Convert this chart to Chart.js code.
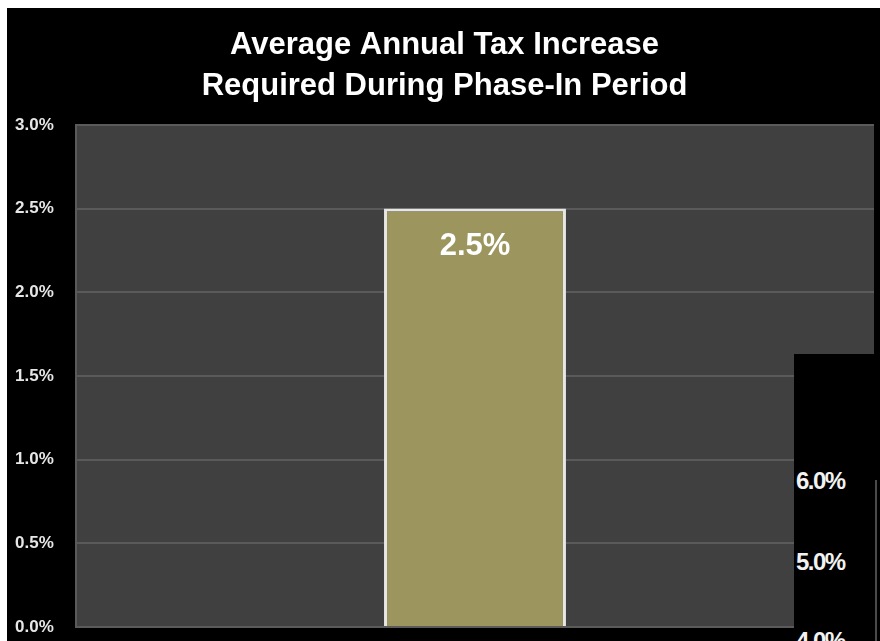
<!DOCTYPE html>
<html>
<head>
<meta charset="utf-8">
<script src="https://cdn.jsdelivr.net/npm/chart.js@4.4.0/dist/chart.umd.min.js"></script>
<style>
    html, body { margin: 0; padding: 0; background: #ffffff; }
    body { width: 880px; height: 641px; position: relative; overflow: hidden; }
    #wrap { position: absolute; left: 7px; top: 8px; width: 873px; height: 633px; background: #000000; }
    #overlay { position: absolute; left: 794px; top: 354px; width: 86px; height: 287px; background: #000000; }
    #overlay span { position: absolute; left: 2px; color: #f2f2f2; font: bold 24px "Liberation Sans", Arial, sans-serif; letter-spacing: -1.5px; }
    #overlay .edge { position: absolute; left: 81px; top: 126px; width: 2px; height: 161px; background: #4a4a4a; }
</style>
</head>
<body>
<div id="wrap"><canvas id="tax"></canvas></div>
<div id="overlay">
    <span style="top:113px">6.0%</span>
    <span style="top:194px">5.0%</span>
    <span style="top:273px">4.0%</span>
    <div class="edge"></div>
</div>
<script>
var categories = ["Phase-In Period"];
var taxIncrease = [2.5];
var titleLines = ["Average Annual Tax Increase", "Required During Phase-In Period"];

// dark plot background + value label
var plotBg = {
    id: "plotBg",
    beforeDraw: function (chart) {
        var a = chart.chartArea, ctx = chart.ctx;
        ctx.save();
        ctx.fillStyle = "#404040";
        ctx.fillRect(a.left, a.top, a.right - a.left, a.bottom - a.top);
        ctx.restore();
    },
    afterDatasetsDraw: function (chart) {
        var ctx = chart.ctx;
        var meta = chart.getDatasetMeta(0);
        ctx.save();
        ctx.fillStyle = "#ffffff";
        ctx.font = "bold 31px 'Liberation Sans', Arial, sans-serif";
        ctx.textAlign = "center";
        ctx.textBaseline = "middle";
        meta.data.forEach(function (bar, i) {
            ctx.fillText(taxIncrease[i].toFixed(1) + "%", bar.x, bar.y + 38);
        });
        ctx.restore();
    },
};

var ctx = document.getElementById("tax").getContext("2d");
var myChart = new Chart(ctx, {
    type: "bar",
    data: {
        labels: categories,
        datasets: [
            {
                label: "Tax increase",
                data: taxIncrease,
                backgroundColor: "#9c955e",
                borderColor: "#e6e6e6",
                borderWidth: 3,
                barPercentage: 0.228,
                categoryPercentage: 1,
            },
        ],
    },
    options: {
        responsive: true,
        maintainAspectRatio: false,
        animation: false,
        layout: { padding: { left: 8, right: 6, top: 0, bottom: 14 } },
        scales: {
            x: {
                ticks: { display: false },
                grid: { display: false },
                border: { color: "#5a5a5a", width: 2 },
                afterFit: function (scale) { scale.height = 0; },
            },
            y: {
                min: 0,
                max: 3,
                ticks: {
                    stepSize: 0.5,
                    crossAlign: "far",
                    color: "#e6e6e6",
                    font: { family: "'Liberation Sans', Arial, sans-serif", size: 17, weight: "bold" },
                    callback: function (v) { return v.toFixed(1) + "%"; },
                },
                grid: { color: "#5a5a5a", lineWidth: 2, drawTicks: false },
                border: { color: "#5a5a5a", width: 2 },
                afterFit: function (scale) { scale.width = 61; },
            },
        },
        plugins: {
            legend: { display: false },
            tooltip: { enabled: false },
            title: {
                display: true,
                text: titleLines,
                color: "#ffffff",
                font: { family: "'Liberation Sans', Arial, sans-serif", size: 31, weight: "bold", lineHeight: 1.32 },
                padding: { top: 17, bottom: 18 },
            },
        },
    },
    plugins: [plotBg],
});
</script>
</body>
</html>
